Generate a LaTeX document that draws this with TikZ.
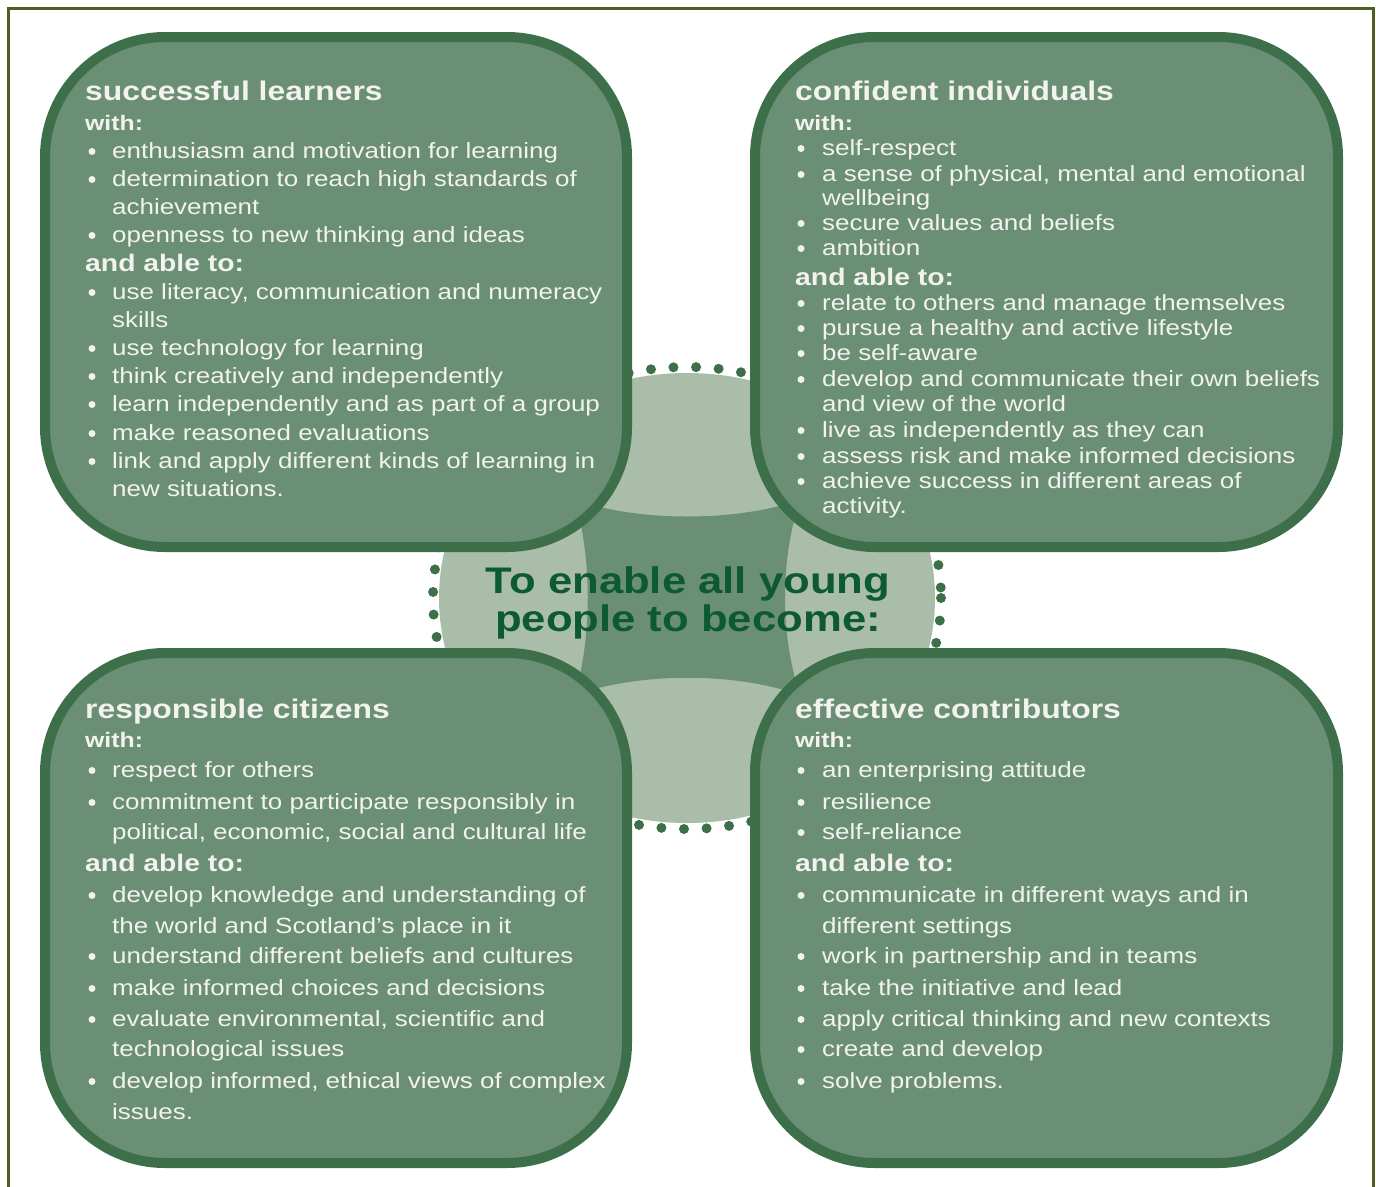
\documentclass[tikz,border=0pt]{standalone}
\usepackage{fontspec}
\newfontfamily\bodyf{Liberation Sans}[FakeStretch=1.18]
\definecolor{bord}{HTML}{3D704A}
\definecolor{boxfill}{HTML}{6B8F75}
\definecolor{light}{HTML}{A9BDA9}
\definecolor{ctext}{HTML}{0E5A30}
\definecolor{btext}{HTML}{F2F2EE}
\definecolor{frame}{HTML}{4E5F24}
\tikzset{
  ttl/.style={anchor=base west, inner sep=0pt, text=btext, font=\bodyf\bfseries\fontsize{27}{30}\selectfont},
  withs/.style={anchor=base west, inner sep=0pt, text=btext, font=\bodyf\bfseries\fontsize{21}{24}\selectfont},
  ablesub/.style={anchor=base west, inner sep=0pt, text=btext, font=\bodyf\bfseries\fontsize{24}{27}\selectfont},
  itm/.style={anchor=base west, inner sep=0pt, text=btext, font=\bodyf\fontsize{22}{26}\selectfont},
  bul/.style={circle, fill=btext, inner sep=0pt, minimum size=7pt},
  ctr/.style={anchor=base, inner sep=0pt, text=ctext, font=\bodyf\bfseries\fontsize{37}{40}\selectfont},
  box/.style={fill=boxfill, draw=bord, line width=10pt, rounded corners=120pt},
}
\begin{document}
\begin{tikzpicture}[x=1pt,y=-1pt]
\useasboundingbox (0,0) rectangle (1376,1186);
\fill[white] (0,0) rectangle (1376,1186);
% light ellipse
\fill[light] (687,598) ellipse [x radius=248, y radius=225];
\draw[bord, line width=10pt, line cap=round, dash pattern=on 0pt off 22.6pt] (687,598) ellipse [x radius=254, y radius=231];
% dark centre
\fill[boxfill] (575,500) .. controls (640,522) and (735,522) .. (800,500)
  .. controls (780,560) and (780,635) .. (800,695)
  .. controls (735,672) and (640,672) .. (575,695)
  .. controls (592,635) and (592,560) .. (575,500) -- cycle;
% boxes
\draw[box] (45,37) rectangle (627,547);
\draw[box] (755,37) rectangle (1338,547);
\draw[box] (45,653) rectangle (627,1163);
\draw[box] (755,653) rectangle (1338,1163);
% centre text
\node[ctr] (c1) at (688,593) {To enable all young};
\node[ctr] (c2) at (688,631) {people to become:};
% ---------- top left
\node[ttl] (tlt) at (85,100) {successful learners};
\node[withs] (tlw) at (85,130) {with:};
\node[ablesub] (tla) at (85,271) {and able to:};
\foreach \y/\t in {152/{enthusiasm and motivation for learning},180/{determination to reach high standards of},236/{openness to new thinking and ideas},293/{use literacy, communication and numeracy},349/{use technology for learning},377/{think creatively and independently},405/{learn independently and as part of a group},434/{make reasoned evaluations},462/{link and apply different kinds of learning in}}{
  \node[bul] (tlp\y) at (92,\y-0.5) {};
  \node[itm] (tlb\y) at (112,\y+6) {\t};
}
\foreach \y/\t in {208/{achievement},321/{skills},490/{new situations.}}{
  \node[itm] (tlc\y) at (112,\y+6) {\t};
}
% ---------- top right
\node[ttl] (trt) at (795,100) {confident individuals};
\node[withs] (trw) at (795,130) {with:};
\node[ablesub] (tra) at (795,285) {and able to:};
\foreach \y/\t in {149/{self-respect},175/{a sense of physical, mental and emotional},224/{secure values and beliefs},249/{ambition},304/{relate to others and manage themselves},329/{pursue a healthy and active lifestyle},354/{be self-aware},380/{develop and communicate their own beliefs},431/{live as independently as they can},457/{assess risk and make informed decisions},482/{achieve success in different areas of}}{
  \node[bul] (trp\y) at (801,\y-0.5) {};
  \node[itm] (trb\y) at (822,\y+6) {\t};
}
\foreach \y/\t in {199/{wellbeing},405/{and view of the world},507/{activity.}}{
  \node[itm] (trc\y) at (822,\y+6) {\t};
}
% ---------- bottom left
\node[ttl] (blt) at (85,718) {responsible citizens};
\node[withs] (blw) at (85,747) {with:};
\node[ablesub] (bla) at (85,871) {and able to:};
\foreach \y/\t in {771/{respect for others},803/{commitment to participate responsibly in},896/{develop knowledge and understanding of},957/{understand different beliefs and cultures},989/{make informed choices and decisions},1020/{evaluate environmental, scientific and},1082/{develop informed, ethical views of complex}}{
  \node[bul] (blp\y) at (92,\y-0.5) {};
  \node[itm] (blb\y) at (112,\y+6) {\t};
}
\foreach \y/\t in {833/{political, economic, social and cultural life},927/{the world and Scotland’s place in it},1050/{technological issues},1113/{issues.}}{
  \node[itm] (blc\y) at (112,\y+6) {\t};
}
% ---------- bottom right
\node[ttl] (brt) at (795,718) {effective contributors};
\node[withs] (brw) at (795,747) {with:};
\node[ablesub] (bra) at (795,871) {and able to:};
\foreach \y/\t in {771/{an enterprising attitude},803/{resilience},833/{self-reliance},896/{communicate in different ways and in},957/{work in partnership and in teams},989/{take the initiative and lead},1020/{apply critical thinking and new contexts},1050/{create and develop},1082/{solve problems.}}{
  \node[bul] (brp\y) at (801,\y-0.5) {};
  \node[itm] (brb\y) at (822,\y+6) {\t};
}
\foreach \y/\t in {927/{different settings}}{
  \node[itm] (brc\y) at (822,\y+6) {\t};
}
% frame
\draw[frame, line width=3pt] (8,1200) -- (8,8) -- (1373,8) -- (1373,1200);
\end{tikzpicture}
\end{document}
